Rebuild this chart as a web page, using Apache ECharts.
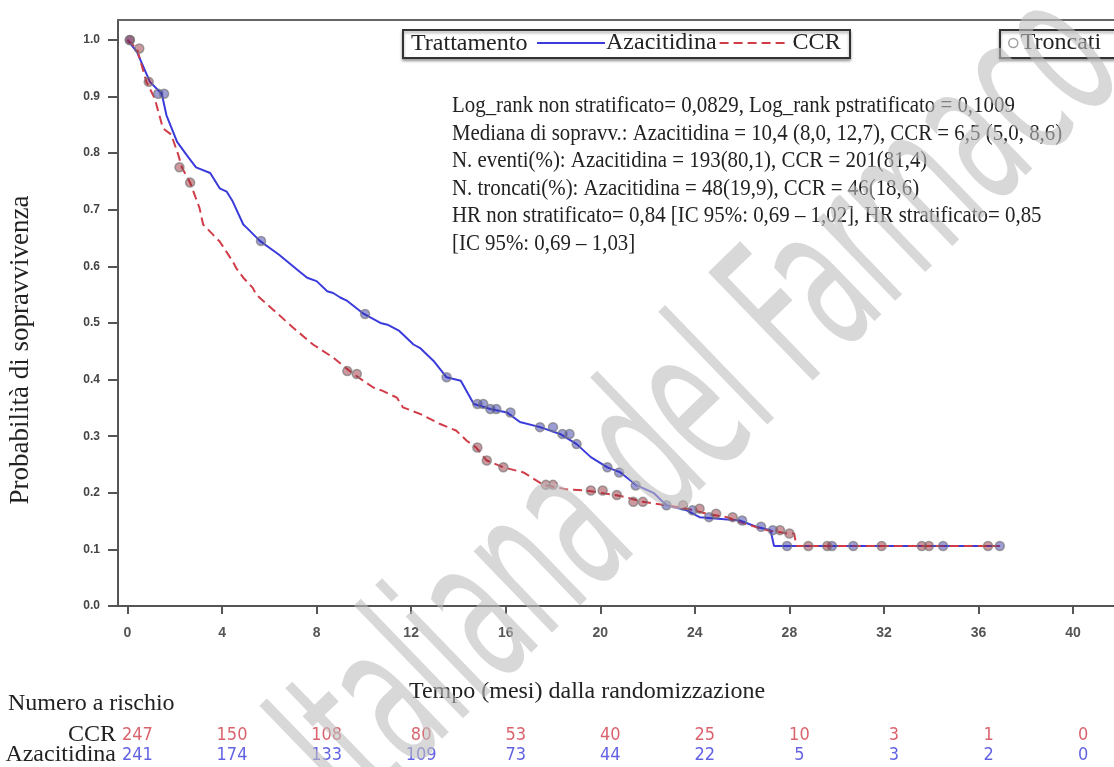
<!DOCTYPE html>
<html>
<head>
<meta charset="utf-8">
<script src="https://cdn.jsdelivr.net/npm/echarts@6/dist/echarts.min.js"></script>
<style>
  html, body { margin: 0; padding: 0; background: #fff; }
  #chart { width: 1114px; height: 767px; }
</style>
</head>
<body>
<div id="chart"></div>
<script>
// tick labels
const X_TICKS = [0, 4, 8, 12, 16, 20, 24, 28, 32, 36, 40];
const Y_TICKS = [0, 0.1, 0.2, 0.3, 0.4, 0.5, 0.6, 0.7, 0.8, 0.9, 1.0];

// Kaplan-Meier curves (months, survival probability)
const AZA_T = [0, 0.4, 0.95, 1.45, 1.65, 2.1, 2.5, 2.9, 3.5, 3.9, 4.2, 4.45, 4.9, 5.05, 5.6, 6.4, 7.3, 7.6, 8.0, 8.45, 8.7, 9.0, 9.3, 10.0, 10.7, 11.0, 11.5, 12.1, 12.4, 12.95, 13.5, 14.1, 14.65, 15.35, 16.05, 16.6, 17.45, 18.3, 19.0, 19.6, 20.3, 20.85, 21.55, 22.25, 22.8, 23.65, 24.2, 25.9, 26.6, 27.2, 27.35, 36.9];
const AZA_S = [1.0, 0.979, 0.926, 0.905, 0.867, 0.82, 0.797, 0.775, 0.765, 0.738, 0.732, 0.715, 0.674, 0.668, 0.645, 0.621, 0.59, 0.58, 0.574, 0.556, 0.553, 0.545, 0.539, 0.516, 0.5, 0.497, 0.486, 0.462, 0.455, 0.433, 0.404, 0.398, 0.357, 0.348, 0.342, 0.325, 0.316, 0.304, 0.286, 0.263, 0.245, 0.236, 0.213, 0.2, 0.178, 0.169, 0.157, 0.151, 0.14, 0.134, 0.106, 0.106];
const CCR_T = [0, 0.4, 0.8, 1.15, 1.5, 1.85, 2.15, 2.3, 2.65, 3.05, 3.2, 3.9, 4.45, 4.6, 4.9, 5.3, 5.45, 6.15, 7.0, 7.85, 8.7, 9.55, 10.4, 10.8, 11.4, 11.65, 12.4, 13.2, 13.9, 14.35, 14.75, 15.2, 15.9, 16.75, 17.6, 18.6, 19.4, 20.9, 21.8, 22.8, 23.65, 24.5, 25.35, 26.05, 27.05, 27.9, 28.2, 28.3, 36.9];
const CCR_S = [1.0, 0.985, 0.926, 0.897, 0.844, 0.833, 0.797, 0.775, 0.748, 0.703, 0.674, 0.644, 0.609, 0.597, 0.58, 0.562, 0.55, 0.524, 0.492, 0.462, 0.439, 0.41, 0.386, 0.38, 0.368, 0.351, 0.339, 0.322, 0.31, 0.292, 0.28, 0.257, 0.245, 0.236, 0.214, 0.206, 0.204, 0.194, 0.184, 0.178, 0.172, 0.163, 0.157, 0.146, 0.134, 0.128, 0.128, 0.106, 0.106];

// censored observations (Troncati)
const AZA_CENS_T = [0.1, 1.3, 1.55, 5.65, 10.05, 13.5, 14.8, 15.05, 15.35, 15.6, 16.2, 17.45, 18.0, 18.4, 18.7, 19.0, 20.3, 20.8, 21.5, 22.8, 23.9, 24.6, 26.0, 26.8, 27.3, 27.9, 29.8, 30.7, 34.5, 36.9];
const AZA_CENS_S = [1.0, 0.905, 0.905, 0.645, 0.516, 0.404, 0.357, 0.357, 0.348, 0.348, 0.342, 0.316, 0.316, 0.304, 0.304, 0.286, 0.245, 0.236, 0.213, 0.178, 0.169, 0.157, 0.151, 0.14, 0.134, 0.106, 0.106, 0.106, 0.106, 0.106];
const CCR_CENS_T = [0.1, 0.5, 0.9, 2.2, 2.65, 9.3, 9.7, 14.8, 15.2, 15.9, 17.7, 18.0, 19.6, 20.1, 20.7, 21.4, 21.8, 23.5, 24.2, 24.9, 25.6, 27.6, 28.0, 28.8, 29.6, 31.9, 33.6, 33.9, 36.4];
const CCR_CENS_S = [1.0, 0.985, 0.926, 0.775, 0.748, 0.415, 0.41, 0.28, 0.257, 0.245, 0.214, 0.214, 0.204, 0.204, 0.196, 0.184, 0.184, 0.178, 0.172, 0.163, 0.157, 0.134, 0.128, 0.106, 0.106, 0.106, 0.106, 0.106, 0.106];

// numbers at risk
const RISK_TIMES = [0, 4, 8, 12, 16, 20, 24, 28, 32, 36, 40];
const RISK_GROUPS = ['Azacitidina', 'CCR'];
const RISK_CCR = [247, 150, 108, 80, 53, 40, 25, 10, 3, 1, 0];
const RISK_AZA = [241, 174, 133, 109, 73, 44, 22, 5, 3, 2, 0];

const STATS_LINES = [
  'Log_rank non stratificato= 0,0829, Log_rank pstratificato = 0,1009',
  'Mediana di sopravv.: Azacitidina = 10,4 (8,0, 12,7), CCR = 6,5 (5,0, 8,6)',
  'N. eventi(%): Azacitidina = 193(80,1), CCR = 201(81,4)',
  'N. troncati(%): Azacitidina = 48(19,9), CCR = 46(18,6)',
  'HR non stratificato= 0,84 [IC 95%: 0,69 \u2013 1,02], HR stratificato= 0,85',
  '[IC 95%: 0,69 \u2013 1,03]'
];

const BLUE = '#3b3bdc';
const RED = '#d03c48';
const SERIF = "'Liberation Serif', 'Times New Roman', serif";
const SANS = "'Liberation Sans', Arial, sans-serif";
const NARROW = "'Liberation Sans Narrow', 'DejaVu Sans Condensed', sans-serif";
const XMIN = -0.4, XMAX = 41.73, YMAX = 1.0353;

const zip = (a, b) => a.map((v, i) => [v, b[i]]);

const chart = echarts.init(document.getElementById('chart'));

chart.setOption({
  animation: false,
  grid: [
    { left: 118, right: 0, top: 20, bottom: 161 },
    { left: 118, right: 0, top: 725, height: 40 }
  ],
  xAxis: [
    {
      gridIndex: 0, type: 'value', min: XMIN, max: XMAX,
      axisLine: { onZero: false, lineStyle: { color: '#555', width: 2 } },
      axisTick: { customValues: X_TICKS, length: 8, lineStyle: { color: '#555', width: 2 } },
      axisLabel: { customValues: X_TICKS, margin: 20, fontFamily: SANS, fontSize: 14, fontWeight: 'bold', color: '#555' },
      splitLine: { show: false }
    },
    {
      gridIndex: 0, type: 'value', position: 'top', min: XMIN, max: XMAX,
      axisLine: { show: true, onZero: false, lineStyle: { color: '#666', width: 2 } },
      axisTick: { show: false }, axisLabel: { show: false }, splitLine: { show: false }
    },
    { gridIndex: 1, type: 'value', min: XMIN, max: XMAX, show: false }
  ],
  yAxis: [
    {
      gridIndex: 0, type: 'value', min: 0, max: YMAX,
      axisLine: { show: true, onZero: false, lineStyle: { color: '#555', width: 2 } },
      axisTick: { show: true, customValues: Y_TICKS, length: 10, lineStyle: { color: '#555', width: 2 } },
      axisLabel: {
        customValues: Y_TICKS, margin: 18, fontFamily: SANS, fontSize: 12,
        fontWeight: 'bold', color: '#444', formatter: v => v.toFixed(1)
      },
      splitLine: { show: false }
    },
    {
      gridIndex: 1, type: 'category', data: RISK_GROUPS,
      axisLine: { show: false }, axisTick: { show: false },
      axisLabel: { interval: 0, margin: 2, fontFamily: SERIF, fontSize: 24, color: '#222' }
    }
  ],
  legend: [
    {
      data: [
        { name: 'Azacitidina' },
        { name: 'CCR', textStyle: { padding: [0, 0, 0, 0] } }
      ],
      left: 536, top: 31, padding: 0,
      itemWidth: 68, itemHeight: 14, itemGap: 2,
      itemStyle: { opacity: 0 },
      textStyle: { fontFamily: SERIF, fontSize: 24, color: '#222', padding: [0, 0, 0, -4] }
    },
    {
      data: [{ name: 'Troncati', icon: 'circle', itemStyle: { color: '#fff', borderColor: '#888', borderWidth: 1.5 } }],
      left: 1008, top: 31, padding: 0,
      itemWidth: 9, itemHeight: 9,
      textStyle: { fontFamily: SERIF, fontSize: 24, color: '#222', padding: [0, 0, 0, -2] }
    }
  ],
  graphic: [
    {
      type: 'rect', z: 3,
      shape: { x: 403, y: 30, width: 447, height: 28 },
      style: { fill: '#fff', stroke: '#333', lineWidth: 2, shadowBlur: 3, shadowOffsetY: 2, shadowColor: 'rgba(0,0,0,0.35)' }
    },
    {
      type: 'rect', z: 3,
      shape: { x: 1000, y: 30, width: 130, height: 28 },
      style: { fill: '#fff', stroke: '#333', lineWidth: 2, shadowBlur: 3, shadowOffsetY: 2, shadowColor: 'rgba(0,0,0,0.35)' }
    },
    {
      type: 'text', z: 5, x: 411, y: 44,
      style: { text: 'Trattamento', font: '24px ' + SERIF, fill: '#222', verticalAlign: 'middle' }
    },
    {
      type: 'text', z: 5, x: 452, y: 92, scaleX: 0.87,
      style: { text: STATS_LINES.join('\n'), font: '24px ' + SERIF, lineHeight: 27.5, fill: '#222' }
    },
    {
      type: 'text', z: 5, x: 21, y: 350, rotation: Math.PI / 2,
      style: { text: 'Probabilit\u00e0 di sopravvivenza', font: '27px ' + SERIF, fill: '#222', align: 'center', verticalAlign: 'middle' }
    },
    {
      type: 'text', z: 5, x: 587, y: 692,
      style: { text: 'Tempo (mesi) dalla randomizzazione', font: '24px ' + SERIF, fill: '#222', align: 'center', verticalAlign: 'middle' }
    },
    {
      type: 'text', z: 5, x: 8, y: 704,
      style: { text: 'Numero a rischio', font: '24px ' + SERIF, fill: '#222', verticalAlign: 'middle' }
    },
    {
      type: 'text', z: 20, x: 705, y: 410, rotation: Math.PI * 44 / 180, scaleY: 1.75,
      style: {
        text: 'Italiana del Farmaco', font: "118px 'DejaVu Sans Condensed', sans-serif",
        fill: 'rgba(190,190,190,0.6)', align: 'center', verticalAlign: 'middle'
      }
    }
  ],
  series: [
    {
      name: 'Azacitidina', type: 'line', xAxisIndex: 0, yAxisIndex: 0,
      data: zip(AZA_T, AZA_S), symbol: 'none', z: 3,
      lineStyle: { color: BLUE, width: 2 }, itemStyle: { color: BLUE }
    },
    {
      name: 'CCR', type: 'line', xAxisIndex: 0, yAxisIndex: 0,
      data: zip(CCR_T, CCR_S), symbol: 'none', z: 3,
      lineStyle: { color: RED, width: 2, type: [9, 5] }, itemStyle: { color: RED }
    },
    {
      name: 'Troncati', type: 'scatter', xAxisIndex: 0, yAxisIndex: 0,
      data: zip(AZA_CENS_T, AZA_CENS_S), symbolSize: 9, z: 4,
      itemStyle: { color: 'rgba(50,50,170,0.6)', borderColor: 'rgba(120,120,120,0.85)', borderWidth: 1.5 }
    },
    {
      name: 'Troncati', type: 'scatter', xAxisIndex: 0, yAxisIndex: 0,
      data: zip(CCR_CENS_T, CCR_CENS_S), symbolSize: 9, z: 4,
      itemStyle: { color: 'rgba(150,40,50,0.6)', borderColor: 'rgba(120,120,120,0.85)', borderWidth: 1.5 }
    },
    {
      name: 'risk-ccr', type: 'scatter', xAxisIndex: 2, yAxisIndex: 1,
      data: RISK_TIMES.map((t, i) => [t, 'CCR', RISK_CCR[i]]),
      symbolSize: 1, itemStyle: { color: 'transparent' },
      label: { show: true, position: 'inside', offset: [10, 0], formatter: p => p.value[2], fontFamily: NARROW, fontSize: 18, color: RED }
    },
    {
      name: 'risk-aza', type: 'scatter', xAxisIndex: 2, yAxisIndex: 1,
      data: RISK_TIMES.map((t, i) => [t, 'Azacitidina', RISK_AZA[i]]),
      symbolSize: 1, itemStyle: { color: 'transparent' },
      label: { show: true, position: 'inside', offset: [10, 0], formatter: p => p.value[2], fontFamily: NARROW, fontSize: 18, color: BLUE }
    }
  ]
});
</script>
</body>
</html>
